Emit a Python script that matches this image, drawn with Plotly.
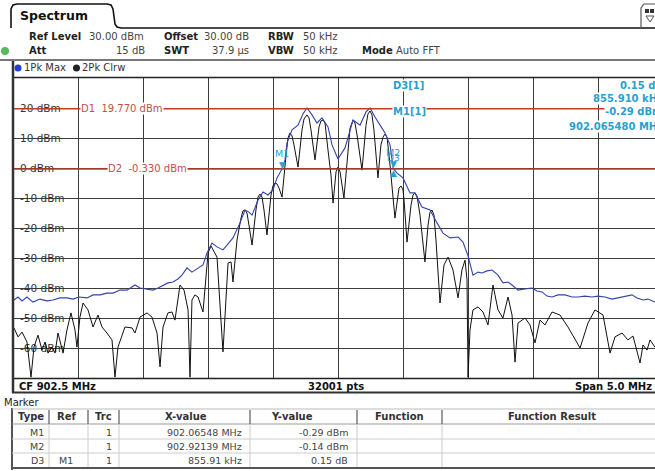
import plotly.graph_objects as go

# ---------------- data ----------------
clrw_freq = [900.000, 900.031, 900.062, 900.100, 900.131, 900.154, 900.185, 900.216, 900.239, 900.262,
             900.293, 900.316, 900.339, 900.378, 900.408, 900.439, 900.470, 900.485, 900.508, 900.532,
             900.570, 900.609, 900.647, 900.678, 900.716, 900.755, 900.778, 900.801, 900.855, 900.909,
             900.932, 900.971, 901.025, 901.063, 901.102, 901.125, 901.148, 901.186, 901.217, 901.240,
             901.279, 901.310, 901.341, 901.356, 901.371, 901.394, 901.418, 901.456, 901.495, 901.518,
             901.564, 901.610, 901.649, 901.672, 901.687, 901.718, 901.749, 901.764, 901.780, 901.795,
             901.810, 901.834, 901.864, 901.880, 901.895, 901.911, 901.926, 901.949, 901.980, 901.995,
             902.011, 902.026, 902.042, 902.065, 902.096, 902.111, 902.126, 902.142, 902.157, 902.188,
             902.219, 902.234, 902.257, 902.273, 902.288, 902.319, 902.350, 902.365, 902.381, 902.396,
             902.419, 902.442, 902.458, 902.481, 902.496, 902.512, 902.542, 902.573, 902.589, 902.612,
             902.627, 902.643, 902.681, 902.712, 902.727, 902.743, 902.758, 902.773, 902.804, 902.827,
             902.843, 902.858, 902.874, 902.897, 902.935, 902.966, 902.982, 902.997, 903.005, 903.028,
             903.059, 903.074, 903.089, 903.105, 903.128, 903.166, 903.190, 903.205, 903.220, 903.236,
             903.251, 903.282, 903.313, 903.344, 903.382, 903.421, 903.451, 903.475, 903.490, 903.498,
             903.513, 903.536, 903.575, 903.613, 903.652, 903.690, 903.729, 903.767, 903.806, 903.837,
             903.860, 903.883, 903.937, 903.975, 904.014, 904.052, 904.091, 904.145, 904.206, 904.268,
             904.361, 904.422, 904.476, 904.538, 904.592, 904.630, 904.684, 904.730, 904.769, 904.823,
             904.846, 904.877, 904.900, 904.938]
clrw_dbm = [-53.3, -56.3, -54.7, -58.0, -69.7, -59.7, -55.7, -60.7, -58.0, -61.7,
            -59.7, -61.7, -55.0, -61.7, -54.0, -48.3, -54.0, -59.7, -49.7, -45.0,
            -47.3, -53.0, -49.0, -53.0, -55.0, -57.3, -69.7, -59.7, -53.0, -53.3,
            -55.0, -49.7, -48.3, -49.7, -55.0, -66.3, -53.0, -48.3, -48.0, -50.7,
            -39.0, -40.7, -47.3, -69.7, -44.0, -42.3, -43.0, -48.0, -28.3, -26.0,
            -29.7, -61.3, -31.7, -31.3, -38.0, -24.0, -16.7, -14.3, -14.0, -15.0,
            -19.0, -25.7, -14.0, -9.7, -8.7, -9.7, -14.0, -22.3, -9.0, -6.0,
            -5.0, -5.3, -6.7, -9.7, 4.3, 10.0, 11.7, 10.7, 7.7, 0.3,
            12.7, 16.3, 17.7, 16.7, 12.7, 2.7, 13.7, 15.7, 16.0, 15.0,
            6.0, -2.3, -11.7, -1.3, 0.3, -1.3, -10.0, 6.0, 13.3, 16.0,
            15.0, 11.0, -0.7, 14.3, 18.0, 19.0, 17.7, 12.7, -3.3, 7.7,
            10.3, 11.3, 10.3, 1.0, -16.7, -6.7, -6.0, -7.3, -10.7, -24.7,
            -12.3, -9.0, -8.3, -9.3, -15.7, -31.3, -19.0, -14.7, -14.0, -15.7,
            -24.0, -45.0, -32.3, -29.7, -34.0, -43.3, -34.0, -30.7, -37.3, -69.7,
            -54.0, -47.3, -46.3, -48.0, -52.3, -39.0, -47.3, -50.0, -43.0, -49.0,
            -64.7, -51.7, -50.0, -52.3, -58.3, -50.7, -52.3, -48.0, -49.0, -53.0,
            -60.0, -51.7, -47.3, -49.0, -61.7, -56.3, -55.0, -57.3, -56.0, -65.0,
            -59.0, -60.7, -57.3, -59.7]

max_freq = [900.000, 900.031, 900.062, 900.100, 900.146, 900.200, 900.254, 900.300, 900.354, 900.408,
            900.455, 900.501, 900.562, 900.609, 900.663, 900.716, 900.763, 900.817, 900.871, 900.932,
            900.971, 901.025, 901.071, 901.109, 901.148, 901.186, 901.225, 901.263, 901.294, 901.333,
            901.371, 901.418, 901.456, 901.487, 901.525, 901.564, 901.610, 901.649, 901.687, 901.741,
            901.780, 901.810, 901.834, 901.880, 901.918, 901.957, 901.995, 902.026, 902.065, 902.088,
            902.103, 902.142, 902.188, 902.226, 902.257, 902.296, 902.334, 902.373, 902.419, 902.450,
            902.496, 902.550, 902.612, 902.666, 902.712, 902.743, 902.781, 902.835, 902.858, 902.897,
            902.921, 902.951, 902.997, 903.051, 903.089, 903.143, 903.205, 903.259, 903.305, 903.359,
            903.421, 903.459, 903.498, 903.536, 903.575, 903.606, 903.644, 903.683, 903.729, 903.767,
            903.806, 903.837, 903.883, 903.937, 903.991, 904.029, 904.068, 904.106, 904.145, 904.191,
            904.245, 904.299, 904.345, 904.399, 904.453, 904.499, 904.553, 904.607, 904.653, 904.707,
            904.761, 904.800, 904.846, 904.884, 904.938]
max_dbm = [-44.0, -43.0, -44.3, -43.0, -44.7, -43.7, -44.3, -44.0, -43.3, -43.3,
           -43.7, -43.0, -43.3, -42.3, -42.3, -41.7, -41.7, -40.7, -40.7, -39.0,
           -40.0, -40.3, -40.7, -40.0, -39.0, -38.3, -38.0, -37.0, -35.7, -33.3,
           -34.7, -33.3, -32.3, -28.3, -25.0, -26.3, -27.3, -25.3, -23.3, -18.3,
           -14.0, -14.7, -15.7, -10.7, -8.0, -9.0, -7.3, -3.3, -0.3, 2.7,
           8.3, 12.7, 14.3, 18.0, 20.0, 17.7, 15.0, 16.7, 13.7, 7.7,
           3.0, 6.7, 16.0, 14.3, 18.7, 20.0, 17.0, 13.3, 11.7, 7.7,
           -0.1, -1.7, -3.3, -8.3, -8.3, -13.0, -14.0, -18.3, -21.7, -23.3,
           -23.0, -24.7, -29.3, -35.7, -34.7, -35.0, -34.3, -34.0, -35.7, -38.3,
           -38.0, -39.0, -40.7, -40.3, -40.0, -41.0, -41.3, -42.7, -43.0, -42.3,
           -42.3, -43.0, -43.0, -42.7, -43.0, -42.7, -43.0, -43.7, -43.3, -43.0,
           -42.3, -43.3, -44.0, -43.7, -44.7]

ytick_vals = [20, 10, 0, -10, -20, -30, -40, -50, -60]
ytick_text = ["20 dBm", "10 dBm", "0 dBm", "-10 dBm", "-20 dBm", "-30 dBm", "-40 dBm", "-50 dBm", "-60 dBm"]
xgrid_vals = [900.5, 901.0, 901.5, 902.0, 902.5, 903.0, 903.5, 904.0, 904.5]

dl_levels = [19.77, -0.33]
dl_labels = ["D1  19.770 dBm", "D2  -0.330 dBm"]

mk_names = ["M1", "M2", "D3"]
mk_freq = [902.06548, 902.92139, 902.92139]
mk_level = [-0.29, -0.14, -0.14]

tbl_type = ["M1", "M2", "D3"]
tbl_ref = ["", "", "M1"]
tbl_trc = ["1", "1", "1"]
tbl_x = ["902.06548 MHz", "902.92139 MHz", "855.91 kHz"]
tbl_y = ["-0.29 dBm", "-0.14 dBm", "0.15 dB"]
tbl_head = ["Type", "Ref", "Trc", "X-value", "Y-value", "Function", "Function Result"]

# ---------------- layout helpers (pixel -> paper) ----------------
W, H = 655, 471
L, T, B = 14, 78, 378
def X(px): return (px - L) / (W - L)
def Y(py): return (B - py) / (B - T)

FONT = "DejaVu Sans"
CYAN = "#2a9fd0"
RED = "#c0392b"
REDTXT = "#c0504d"
GRID = "#3c3c3c"

shapes, ann = [], []

def line(x0, y0, x1, y1, color="#222", width=1, layer="above"):
    shapes.append(dict(type="line", xref="paper", yref="paper", x0=X(x0), y0=Y(y0), x1=X(x1), y1=Y(y1),
                       line=dict(color=color, width=width), layer=layer))

def rect(x0, y0, x1, y1, fill="white", color=None, width=0, layer="above"):
    shapes.append(dict(type="rect", xref="paper", yref="paper", x0=X(x0), y0=Y(y0), x1=X(x1), y1=Y(y1),
                       fillcolor=fill, line=dict(color=color or fill, width=width), layer=layer))

def path(pts, color="#222", width=1, fill=None, layer="above"):
    s = "M " + " L ".join("%f,%f" % (X(a), Y(b)) for a, b in pts)
    d = dict(type="path", xref="paper", yref="paper", path=s, line=dict(color=color, width=width), layer=layer)
    if fill:
        d["fillcolor"] = fill
        d["path"] += " Z"
    shapes.append(d)

def txt(s, px, py, anchor="left", size=10, color="#222", bold=False, bg=None, va="middle"):
    d = dict(text=("<b>%s</b>" % s) if bold else s, x=X(px), y=Y(py), xref="paper", yref="paper",
             xanchor=anchor, yanchor=va, showarrow=False, borderpad=0,
             font=dict(family=FONT, size=size, color=color))
    if bg:
        d["bgcolor"] = bg
    ann.append(d)

def tw(s, size):
    w = 0
    for ch in s:
        if ch in "0123456789": w += 0.636
        elif ch == " ": w += 0.318
        elif ch == "-": w += 0.361
        elif ch == "m": w += 0.974
        elif ch == "B": w += 0.686
        else: w += 0.63
    return w * size

# ---------------- plot area decorations ----------------
for v, t in zip(ytick_vals, ytick_text):
    py = T + (30 - v) * 3
    rect(15, py - 6, 18 + tw(t, 10.5) + 1, py + 6, layer="between")
rect(390, T + 1, 656, 134, layer="between")

line(13, 77.5, 656, 77.5, "#222", 1.5)
line(13, 378.5, 656, 378.5, "#222", 1.5)
line(13, 60, 13, 393, "#333", 2.5)

for lv in dl_levels:
    shapes.append(dict(type="line", xref="paper", yref="y", x0=0, x1=1.02, y0=lv, y1=lv,
                       line=dict(color=RED, width=1.4), layer="above"))
for lv, lab, px in zip(dl_levels, dl_labels, [80, 107]):
    ann.append(dict(text=lab, x=X(px), y=lv, xref="paper", yref="y", xanchor="left", yanchor="middle",
                    showarrow=False, bgcolor="white", borderpad=0,
                    font=dict(family=FONT, size=10, color=REDTXT)))

txt("D3[1]", 392, 85, "left", 10, CYAN, True, "white")
txt("0.15 dB", 664, 85, "right", 10, CYAN, True, "white")
txt("855.910 kHz", 664, 98, "right", 10, CYAN, True, "white")
txt("M1[1]", 392, 112, "left", 10, CYAN, True, "white")
txt("-0.29 dBm", 664, 112, "right", 10, CYAN, True, "white")
txt("902.065480 MHz", 664, 126, "right", 10, CYAN, True, "white")

# ---------------- header ----------------
path([(11, 28), (11, 9), (13, 5), (17, 4), (107, 4), (111, 5), (113, 9), (115, 24), (117, 27), (121, 28), (660, 28)],
     "#111", 1.6)
txt("Spectrum", 19, 16, "left", 12.5, "#111", True)
path([(641, 28), (641, 8), (644, 4), (660, 4)], "#555", 1.2)
rect(645, 9, 649, 13, fill="#333")
rect(650, 9, 654, 13, fill="#333")
path([(646, 16), (654, 16), (650, 22)], "#555", 1, fill="white")

txt("Ref Level", 28, 36, "left", 10, "#222", True)
txt("30.00 dBm", 88, 36, "left", 10, "#444")
txt("Offset", 163, 36, "left", 10, "#222", True)
txt("30.00 dB", 203, 36, "left", 10, "#444")
txt("RBW", 267, 36, "left", 10, "#222", True)
txt("50 kHz", 302, 36, "left", 10, "#444")
shapes.append(dict(type="circle", xref="paper", yref="paper", x0=X(1), x1=X(9), y0=Y(47), y1=Y(55),
                   fillcolor="#5cb85c", line=dict(color="#5cb85c", width=0), layer="above"))
txt("Att", 28, 51, "left", 10, "#222", True)
txt("15 dB", 146, 51, "right", 10, "#444")
txt("SWT", 163, 51, "left", 10, "#222", True)
txt("37.9 µs", 250, 51, "right", 10, "#444")
txt("VBW", 267, 51, "left", 10, "#222", True)
txt("50 kHz", 302, 51, "left", 10, "#444")
txt("Mode", 361, 51, "left", 10, "#222", True)
txt("Auto FFT", 395, 51, "left", 10, "#444")
line(0, 60, 656, 60, "#777", 2)

shapes.append(dict(type="circle", xref="paper", yref="paper", x0=X(14.5), x1=X(21.5), y0=Y(64.5), y1=Y(71.5),
                   fillcolor="#1f3fcf", line=dict(color="#1f3fcf", width=0), layer="above"))
txt("1Pk Max", 23, 68, "left", 10, "#333")
shapes.append(dict(type="circle", xref="paper", yref="paper", x0=X(73), x1=X(80), y0=Y(64.5), y1=Y(71.5),
                   fillcolor="#222", line=dict(color="#222", width=0), layer="above"))
txt("2Pk Clrw", 81, 68, "left", 10, "#333")

# ---------------- status bar ----------------
txt("CF 902.5 MHz", 18, 386, "left", 10, "#111", True)
txt("32001 pts", 336, 386, "center", 10, "#111", True)
txt("Span 5.0 MHz", 653, 386, "right", 10, "#111", True)
line(12, 392.5, 656, 392.5, "#333", 2)

# ---------------- marker table ----------------
txt("Marker", 3, 402, "left", 10, "#222")
line(12, 408, 12, 470, "#555", 2)
for yy, c in [(409, "#bbb"), (424, "#999"), (439, "#ccc"), (453, "#ccc"), (468, "#555")]:
    line(12, yy, 656, yy, c, 1 if yy != 468 else 2)
for xs in [49, 88, 119, 250, 357, 442]:
    line(xs, 410, xs, 424, "#666", 1.3)
    line(xs, 424, xs, 467, "#ccc", 1)
for h, cx in zip(tbl_head, [31, 66, 103, 186, 292, 399, 552]):
    txt(h, cx, 417, "center", 10, "#333", True)
for i in range(3):
    ry = 432 + i * 14.3
    txt(tbl_type[i], 45, ry, "right", 9.5, "#444")
    txt(tbl_ref[i], 74, ry, "right", 9.5, "#444")
    txt(tbl_trc[i], 113, ry, "right", 9.5, "#444")
    txt(tbl_x[i], 243, ry, "right", 9.5, "#444")
    txt(tbl_y[i], 349, ry, "right", 9.5, "#444")

# ---------------- figure ----------------
fig = go.Figure()
fig.add_trace(go.Scatter(x=clrw_freq, y=clrw_dbm, mode="lines", line=dict(color="#111111", width=1),
                         hoverinfo="skip", showlegend=False))
fig.add_trace(go.Scatter(x=max_freq, y=max_dbm, mode="lines", line=dict(color="#3344aa", width=1.1),
                         hoverinfo="skip", showlegend=False))

for name, f, lv in zip(mk_names, mk_freq, mk_level):
    if name == "D3":
        ann.append(dict(text="▲", x=f, y=lv, xref="x", yref="y", xanchor="center", yanchor="top",
                        showarrow=False, yshift=2, font=dict(size=9, color=CYAN, family=FONT)))
        ann.append(dict(text="D3", x=f, y=lv, xref="x", yref="y", xanchor="center", yanchor="bottom",
                        showarrow=False, yshift=3, font=dict(size=9, color=CYAN, family=FONT)))
    else:
        ann.append(dict(text="▼", x=f, y=lv, xref="x", yref="y", xanchor="center", yanchor="bottom",
                        showarrow=False, yshift=-3, font=dict(size=9, color=CYAN, family=FONT)))
        ann.append(dict(text=name, x=f, y=lv, xref="x", yref="y", xanchor="center", yanchor="bottom",
                        showarrow=False, yshift=8, font=dict(size=9.5, color=CYAN, family=FONT)))

fig.update_layout(
    width=W, height=H, margin=dict(l=L, r=0, t=T, b=H - B),
    paper_bgcolor="white", plot_bgcolor="white",
    shapes=shapes, annotations=ann, showlegend=False,
    xaxis=dict(range=[900.0, 900.0 + (W - L) / 129.8], tickvals=xgrid_vals, showticklabels=False,
               showgrid=True, gridcolor=GRID, gridwidth=1, zeroline=False, showline=False,
               ticks="", fixedrange=True, layer="below traces"),
    yaxis=dict(range=[-70, 30], tickvals=ytick_vals, ticktext=ytick_text, ticklabelposition="inside",
               showgrid=True, gridcolor=GRID, gridwidth=1, zeroline=False, showline=False, ticks="",
               tickfont=dict(family=FONT, size=10.5, color="#333"), fixedrange=True, layer="below traces",
               ticklabelstandoff=3),
)
fig.write_html("out.html", config={"displayModeBar": False},
               post_script="document.body.style.margin='0';document.body.style.overflow='hidden';")
